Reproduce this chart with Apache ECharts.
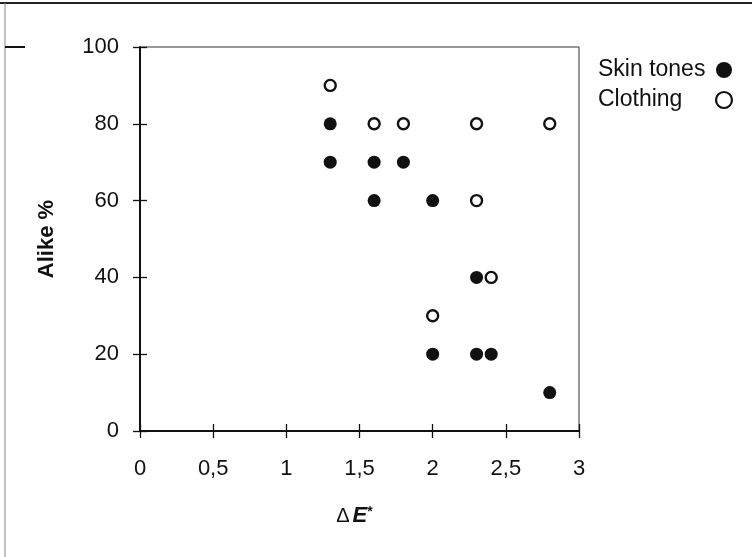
<!DOCTYPE html>
<html><head><meta charset="utf-8">
<script src="https://cdn.jsdelivr.net/npm/echarts@6/dist/echarts.min.js"></script>
<style>html,body{margin:0;padding:0;background:#fff}#c{width:752px;height:557px}</style>
</head><body><div id="c"></div>
<script>
var skinTones = [[1.3,80],[1.3,70],[1.6,70],[1.8,70],[1.6,60],[2.0,60],[2.3,40],[2.0,20],[2.3,20],[2.4,20],[2.8,10]];
var clothing = [[1.3,90],[1.6,80],[1.8,80],[2.3,80],[2.8,80],[2.3,60],[2.4,40],[2.0,30]];
var seriesNames = ['Skin tones','Clothing'];
var xTicks = {min:0, max:3, interval:0.5};
var yTicks = {min:0, max:100, interval:20};
var FONT = '"Liberation Sans", Arial, sans-serif';
var chart = echarts.init(document.getElementById('c'));
var axisCommonX = {type:'value', min:xTicks.min, max:xTicks.max, interval:xTicks.interval, splitLine:{show:false}};
var axisCommonY = {type:'value', min:yTicks.min, max:yTicks.max, interval:yTicks.interval, splitLine:{show:false}};
chart.setOption({
  animation:false,
  textStyle:{fontFamily:FONT},
  grid:{left:140, right:173, top:47, bottom:126, show:true, borderColor:'#333', borderWidth:1},
  legend:{
    orient:'vertical', left:593, top:53, align:'right', itemGap:6,
    itemWidth:16, itemHeight:16,
    formatter:function(n){return '{a|'+n+'}';},
    textStyle:{fontFamily:FONT, fontSize:23, color:'#111', lineHeight:24,
      rich:{a:{fontFamily:FONT, fontSize:23, color:'#111', width:113, align:'left', lineHeight:24}}},
    data:[
      {name:seriesNames[0], icon:'circle', itemStyle:{color:'#111'}},
      {name:seriesNames[1], icon:'circle', itemStyle:{color:'#fff', borderColor:'#111', borderWidth:2.2}}
    ]
  },
  xAxis:[
    Object.assign({}, axisCommonX, {
      position:'bottom',
      name:'{d|Δ}{e|E}{s|*}', nameLocation:'middle', nameGap:74,
      nameTextStyle:{padding:[0,10,0,0], rich:{
        d:{fontFamily:FONT, fontSize:20, color:'#111', padding:[0,3,0,0]},
        e:{fontFamily:FONT, fontSize:22, fontWeight:'bold', fontStyle:'italic', color:'#111'},
        s:{fontFamily:FONT, fontSize:14, fontWeight:'bold', color:'#111', verticalAlign:'top'}
      }},
      axisLine:{show:true, onZero:false, lineStyle:{color:'#111', width:2}},
      axisTick:{show:true, length:7, lineStyle:{color:'#111', width:1.3}},
      axisLabel:{fontFamily:FONT, fontSize:22, color:'#111', margin:27,
        formatter:function(v){return String(v).replace('.',',');}}
    }),
    Object.assign({}, axisCommonX, {
      position:'bottom', axisLine:{show:false}, axisLabel:{show:false},
      axisTick:{show:true, inside:true, length:7, lineStyle:{color:'#111', width:1.3}}
    })
  ],
  yAxis:[
    Object.assign({}, axisCommonY, {
      position:'left',
      name:'Alike %', nameLocation:'middle', nameGap:82,
      nameTextStyle:{fontFamily:FONT, fontSize:22, fontWeight:'bold', color:'#111'},
      axisLine:{show:true, onZero:false, lineStyle:{color:'#111', width:2}},
      axisTick:{show:true, length:7, lineStyle:{color:'#111', width:1.3}},
      axisLabel:{fontFamily:FONT, fontSize:22, color:'#111', margin:21}
    }),
    Object.assign({}, axisCommonY, {
      position:'left', axisLine:{show:false}, axisLabel:{show:false},
      axisTick:{show:true, inside:true, length:7, lineStyle:{color:'#111', width:1.3}}
    })
  ],
  series:[
    {name:seriesNames[0], type:'scatter', data:skinTones, symbol:'circle', symbolSize:13,
      itemStyle:{color:'#111', opacity:1}},
    {name:seriesNames[1], type:'scatter', data:clothing, symbol:'circle', symbolSize:11,
      itemStyle:{color:'#fff', borderColor:'#111', borderWidth:2.4, opacity:1}}
  ],
  graphic:[
    {type:'line', shape:{x1:0, y1:3, x2:752, y2:3}, style:{stroke:'#222', lineWidth:2}},
    {type:'line', shape:{x1:5, y1:3, x2:5, y2:557}, style:{stroke:'#888', lineWidth:1}},
    {type:'line', shape:{x1:5, y1:47, x2:25, y2:47}, style:{stroke:'#111', lineWidth:2}}
  ]
});
</script></body></html>
